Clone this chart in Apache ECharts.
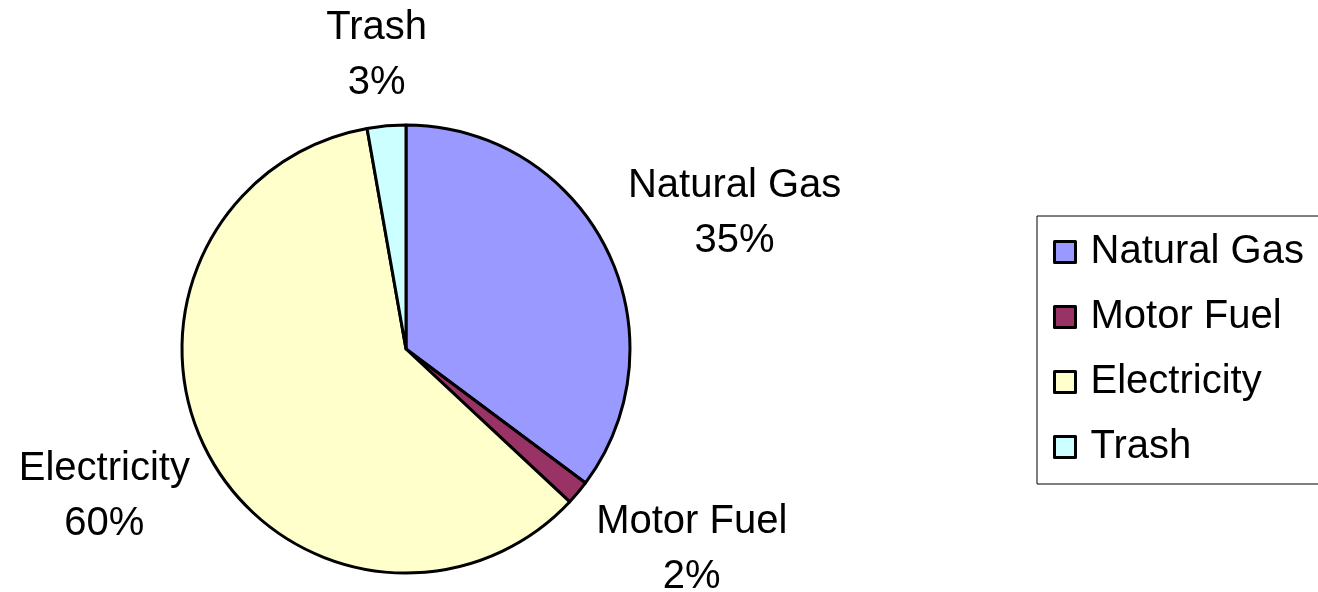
<!DOCTYPE html>
<html>
<head>
<meta charset="utf-8">
<script src="https://cdn.jsdelivr.net/npm/echarts@6/dist/echarts.min.js"></script>
<style>
html,body{margin:0;padding:0;background:#fff;}
#chart{width:1318px;height:592px;}
</style>
</head>
<body>
<div id="chart"></div>
<script>
const categories = ['Natural Gas', 'Motor Fuel', 'Electricity', 'Trash'];
const values = [35.2, 1.75, 60.27, 2.78];
const colors = ['#9999FF', '#993366', '#FFFFCC', '#CCFFFF'];

const CX = 406, CY = 349, R = 224, GAP = 28;
const total = values.reduce((a, b) => a + b, 0);
const cumBefore = values.map((v, i) => values.slice(0, i).reduce((a, b) => a + b, 0));
const labelShift = [[8, 2], [19, 4], [-5, 1], [-3, 12]];

const chart = echarts.init(document.getElementById('chart'));
chart.setOption({
  backgroundColor: '#ffffff',
  animation: false,
  legend: {
    orient: 'vertical',
    left: 1037,
    top: 216,
    padding: [16, 30, 17, 16],
    borderColor: '#000000',
    borderWidth: 1,
    itemWidth: 21,
    itemHeight: 21,
    itemGap: 25,
    icon: 'rect',
    itemStyle: { borderColor: '#000000', borderWidth: 3 },
    textStyle: {
      fontFamily: 'Liberation Sans, Arial, sans-serif',
      fontSize: 40,
      lineHeight: 40,
      color: '#000000',
      padding: [0, 0, 0, 10]
    },
    data: categories
  },
  series: [{
    type: 'pie',
    center: [CX, CY],
    radius: R,
    startAngle: 90,
    clockwise: true,
    avoidLabelOverlap: false,
    data: categories.map((c, i) => ({ name: c, value: values[i], itemStyle: { color: colors[i] } })),
    itemStyle: { borderColor: '#000000', borderWidth: 3 },
    label: {
      show: true,
      position: 'outside',
      formatter: p => p.name + '\n' + Math.round(p.percent) + '%',
      fontFamily: 'Liberation Sans, Arial, sans-serif',
      fontSize: 40,
      lineHeight: 55,
      color: '#000000',
      align: 'center'
    },
    labelLine: { show: false },
    labelLayout: function (params) {
      const i = params.dataIndex;
      const mid = (cumBefore[i] + values[i] / 2) / total * Math.PI * 2;
      const ux = Math.sin(mid), uy = -Math.cos(mid);
      const w = params.labelRect.width, h = params.labelRect.height;
      return {
        x: CX + ux * (R + GAP) + ux * w / 2 + labelShift[i][0],
        y: CY + uy * (R + GAP) + uy * h / 2 + labelShift[i][1],
        align: 'center',
        verticalAlign: 'middle'
      };
    },
    emphasis: { disabled: true }
  }]
});
</script>
</body>
</html>
